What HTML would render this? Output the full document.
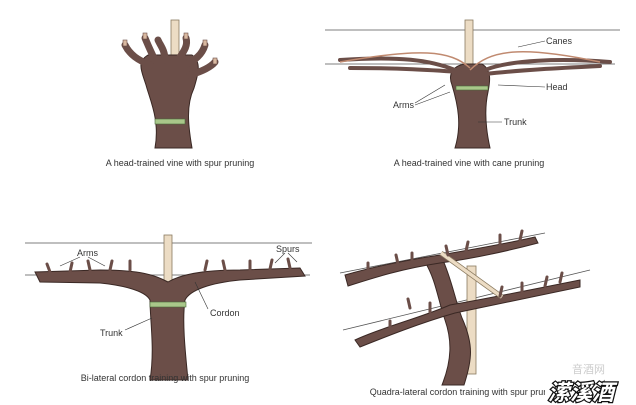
<!DOCTYPE html>
<html><head><style>
html,body{margin:0;padding:0;background:#fff;}
svg{display:block}
text{font-family:"Liberation Sans","Noto Sans CJK SC",sans-serif;font-size:9px;fill:#333}
</style></head><body>
<svg width="636" height="405" viewBox="0 0 636 405" xmlns="http://www.w3.org/2000/svg">
<defs>
<style>.v{fill:#6b4e48;stroke:#3a2824;stroke-width:1}.b{fill:none;stroke:#6b4e48;stroke-linecap:round}.w{stroke:#555;stroke-width:0.8}.p{fill:#ecdcc4;stroke:#8a7a60;stroke-width:0.8}.s{fill:#d9b9a0;stroke:#6b4e48;stroke-width:0.6}</style>
</defs>
<!-- Panel 1 -->
<rect class="p" x="171" y="20" width="8" height="128"/>
<path class="v" d="M155 148 C160 120 150 100 146 85 C142 72 136 62 148 55 L192 55 C202 62 198 75 194 88 C186 105 188 125 192 148 Z"/>
<g class="b" stroke-width="7">
<path d="M150 65 C138 60 130 55 125 45"/><path d="M155 60 C150 50 148 45 145 38"/><path d="M165 60 C165 50 160 45 158 40"/>
<path d="M178 60 C185 50 188 45 186 38"/><path d="M185 65 C195 60 202 55 205 45"/><path d="M190 75 C200 72 210 68 215 62"/>
</g>
<rect class="s" x="123" y="40" width="4" height="6"/><rect class="s" x="143" y="33" width="4" height="6"/><rect class="s" x="184" y="33" width="4" height="6"/><rect class="s" x="203" y="40" width="4" height="6"/><rect class="s" x="213" y="58" width="4" height="6"/>
<rect x="155" y="119" width="30" height="5" fill="#a9c78a" stroke="#4a6a3a" stroke-width="0.6"/>
<text x="180" y="166" text-anchor="middle">A head-trained vine with spur pruning</text>
<!-- Panel 2 -->
<line class="w" x1="325" y1="30" x2="620" y2="30"/><line class="w" x1="325" y1="64" x2="615" y2="64"/>
<rect class="p" x="465" y="20" width="8" height="128"/>
<path class="v" d="M455 148 C462 125 458 105 452 85 C448 75 452 66 465 64 L482 64 C492 70 490 82 488 92 C484 110 486 130 490 148 Z"/>
<g class="b" stroke-width="4">
<path d="M455 70 C430 60 400 56 340 60"/><path d="M460 72 C430 70 400 68 350 68"/>
<path d="M485 70 C510 60 560 58 610 62"/><path d="M485 74 C520 70 560 68 600 66"/>
</g>
<path d="M470 70 C490 50 520 45 600 62 M470 68 C450 50 420 48 340 62" fill="none" stroke="#c08a70" stroke-width="1.5"/>
<rect x="456" y="86" width="32" height="4" fill="#a9c78a" stroke="#4a6a3a" stroke-width="0.6"/>
<g stroke="#333" stroke-width="0.6"><line x1="518" y1="47" x2="545" y2="41"/><line x1="498" y1="85" x2="545" y2="87"/><line x1="415" y1="103" x2="445" y2="85"/><line x1="415" y1="105" x2="450" y2="92"/><line x1="478" y1="122" x2="502" y2="122"/></g>
<text x="546" y="44">Canes</text><text x="546" y="90">Head</text><text x="393" y="108">Arms</text><text x="504" y="125">Trunk</text>
<text x="469" y="166" text-anchor="middle">A head-trained vine with cane pruning</text>
<!-- Panel 3 -->
<line class="w" x1="25" y1="243" x2="312" y2="243"/><line class="w" x1="25" y1="275" x2="310" y2="275"/>
<rect class="p" x="164" y="235" width="8" height="145"/>
<path class="v" d="M150 380 C155 350 150 320 150 300 C145 290 120 285 100 283 L40 282 L35 272 L100 270 C140 270 155 275 168 282 C180 275 200 270 240 270 L300 268 L305 276 L240 280 C210 283 190 290 185 300 C182 320 185 350 188 380 Z"/>
<g class="b" stroke-width="3"><path d="M50 272 l-3 -8"/><path d="M70 272 l2 -9"/><path d="M90 270 l-2 -9"/><path d="M110 270 l2 -9"/><path d="M130 270 l0 -9"/><path d="M205 270 l2 -9"/><path d="M225 270 l-2 -9"/><path d="M250 270 l0 -9"/><path d="M270 269 l2 -9"/><path d="M290 268 l-2 -9"/></g>
<rect x="150" y="302" width="36" height="5" fill="#a9c78a" stroke="#4a6a3a" stroke-width="0.6"/>
<g stroke="#333" stroke-width="0.6"><line x1="80" y1="257" x2="60" y2="266"/><line x1="88" y1="257" x2="105" y2="266"/><line x1="285" y1="253" x2="275" y2="263"/><line x1="288" y1="253" x2="297" y2="262"/><line x1="208" y1="309" x2="195" y2="282"/><line x1="125" y1="330" x2="152" y2="318"/></g>
<text x="77" y="256">Arms</text><text x="276" y="252">Spurs</text><text x="210" y="316">Cordon</text><text x="100" y="336">Trunk</text>
<text x="165" y="381" text-anchor="middle">Bi-lateral cordon training with spur pruning</text>
<!-- Panel 4 -->
<line class="w" x1="340" y1="273" x2="545" y2="233"/><line class="w" x1="343" y1="330" x2="590" y2="270"/>
<rect class="p" x="467" y="266" width="9" height="108"/>
<path class="v" d="M442 385 C452 360 452 340 445 320 C438 300 436 280 425 262 L442 258 C452 280 455 300 462 318 C474 345 472 360 464 385 Z"/>
<path class="v" d="M345 275 C380 265 420 258 440 255 C470 250 500 245 535 237 L538 243 C500 253 470 259 440 263 C400 269 370 279 348 286 Z"/>
<path class="v" d="M355 340 C380 328 420 318 450 305 C480 300 530 290 580 280 L580 287 C530 297 490 306 455 313 C420 323 385 337 360 347 Z"/>
<path d="M441 253 L502 297" stroke="#8a7a60" stroke-width="5"/><path d="M441 253 L502 297" stroke="#ecdcc4" stroke-width="3.5"/>
<g class="b" stroke-width="3"><path d="M368 272 l0 -9"/><path d="M398 264 l-2 -9"/><path d="M412 262 l0 -9"/><path d="M448 255 l-2 -9"/><path d="M466 251 l2 -9"/><path d="M500 244 l0 -9"/><path d="M520 240 l2 -9"/><path d="M410 308 l-2 -9"/><path d="M390 330 l0 -9"/><path d="M430 312 l0 -9"/><path d="M500 296 l2 -9"/><path d="M522 292 l0 -9"/><path d="M545 286 l2 -9"/><path d="M560 282 l2 -9"/></g>
<text x="465" y="395" text-anchor="middle">Quadra-lateral cordon training with spur pruning</text>
<text x="572" y="373" style="font-size:11px;fill:#ccc">音酒网</text>
<rect x="545" y="377" width="82" height="26" fill="#fff"/>
<text x="548" y="400" style="font-size:22px;font-weight:bold;fill:#fff;stroke:#111;stroke-width:2.5;paint-order:stroke;font-style:italic">潆溪酒</text>
</svg>
</body></html>
